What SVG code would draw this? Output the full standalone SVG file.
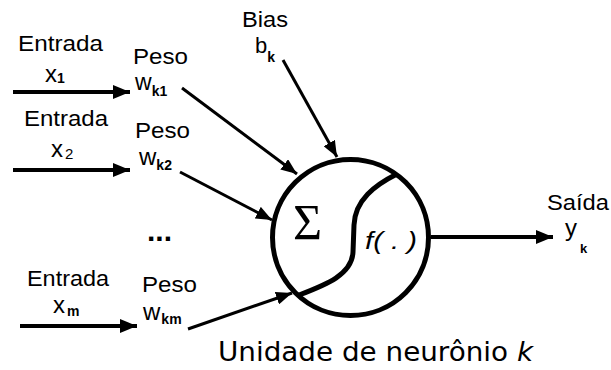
<svg xmlns="http://www.w3.org/2000/svg" width="611" height="370" viewBox="0 0 611 370">
<style>
.t{font-family:"Liberation Sans",Arial,sans-serif;fill:#000}
.lab{font-size:22px}
.var{font-size:24px}
.sub{font-size:14px;font-weight:bold}
.in{stroke:#000;stroke-width:4;fill:none}
.wt{stroke:#000;stroke-width:3;fill:none}
</style>
<defs>
<marker id="ah" markerUnits="userSpaceOnUse" markerWidth="18" markerHeight="14" refX="17" refY="7" orient="auto">
<path d="M0,0 L17,7 L0,14 z" fill="#000"/>
</marker>
<marker id="ah2" markerUnits="userSpaceOnUse" markerWidth="17" markerHeight="13" refX="16" refY="6.5" orient="auto">
<path d="M0,0 L16,6.5 L0,13 z" fill="#000"/>
</marker>
</defs>
<rect width="611" height="370" fill="#fff"/>
<g id="connectors">
<line class="in" x1="13" y1="92" x2="130" y2="92" marker-end="url(#ah)"/>
<line class="in" x1="13" y1="170" x2="130" y2="170" marker-end="url(#ah)"/>
<line class="in" x1="20" y1="326" x2="137" y2="326" marker-end="url(#ah)"/>
<line class="wt" x1="283" y1="60" x2="337" y2="157" marker-end="url(#ah2)"/>
<line class="wt" x1="182" y1="88" x2="297" y2="174" marker-end="url(#ah2)"/>
<line class="wt" x1="180" y1="172" x2="272" y2="220" marker-end="url(#ah2)"/>
<line class="wt" x1="188" y1="329" x2="292" y2="293" marker-end="url(#ah2)"/>
<line class="in" x1="431" y1="237" x2="553" y2="237" marker-end="url(#ah)"/>
</g>
<g id="input1">
<text class="t lab" x="18" y="51" textLength="85" lengthAdjust="spacingAndGlyphs">Entrada</text>
<text class="t var" x="45" y="82">x<tspan class="sub" dy="1">1</tspan></text>
</g>
<g id="input2">
<text class="t lab" x="24" y="126" textLength="84" lengthAdjust="spacingAndGlyphs">Entrada</text>
<text class="t var" x="51" y="157">x<tspan style="font-size:15px" dx="2" dy="2">2</tspan></text>
</g>
<g id="inputm">
<text class="t lab" x="27" y="286" textLength="82" lengthAdjust="spacingAndGlyphs">Entrada</text>
<text class="t var" x="53" y="313">x<tspan class="sub" dx="2" dy="3">m</tspan></text>
</g>
<g id="weight1">
<text class="t lab" x="133" y="64" textLength="55" lengthAdjust="spacingAndGlyphs">Peso</text>
<text class="t" x="135" y="90" style="font-size:23px">w<tspan class="sub" dy="6">k1</tspan></text>
</g>
<g id="weight2">
<text class="t lab" x="135" y="138" textLength="55" lengthAdjust="spacingAndGlyphs">Peso</text>
<text class="t var" x="139" y="165">w<tspan class="sub" dy="5">k2</tspan></text>
</g>
<g id="dots">
<text class="t" x="147" y="241" style="font-size:30px;font-weight:bold">...</text>
</g>
<g id="weightm">
<text class="t lab" x="142" y="292" textLength="55" lengthAdjust="spacingAndGlyphs">Peso</text>
<text class="t var" x="143" y="320">w<tspan class="sub" dx="1" dy="4">km</tspan></text>
</g>
<g id="bias">
<text class="t lab" x="242" y="27" textLength="46" lengthAdjust="spacingAndGlyphs">Bias</text>
<text class="t lab" x="255" y="53">b<tspan class="sub" dy="9">k</tspan></text>
</g>
<g id="neuron">
<circle cx="350.5" cy="237.5" r="78" fill="none" stroke="#000" stroke-width="5"/>
<path d="M397,174 C375,185 355,200 354,225 L353,252 C352,275 325,285 299,295" fill="none" stroke="#000" stroke-width="5"/>
<text x="293" y="239" style="font-family:'Liberation Serif','Times New Roman',serif;font-size:50px">Σ</text>
<text class="t" x="365" y="249" style="font-size:23px;font-style:italic" textLength="52" lengthAdjust="spacingAndGlyphs">f( . )</text>
</g>
<g id="output">
<text class="t lab" x="547" y="210" textLength="62" lengthAdjust="spacingAndGlyphs">Saída</text>
<text class="t var" x="565" y="236">y<tspan style="font-size:13px;font-weight:bold" dx="3" dy="17">k</tspan></text>
</g>
<g id="caption">
<text x="218" y="361" style="font-family:'DejaVu Sans',sans-serif;font-size:26px" textLength="315" lengthAdjust="spacingAndGlyphs">Unidade de neurônio <tspan style="font-style:italic">k</tspan></text>
</g>
</svg>
